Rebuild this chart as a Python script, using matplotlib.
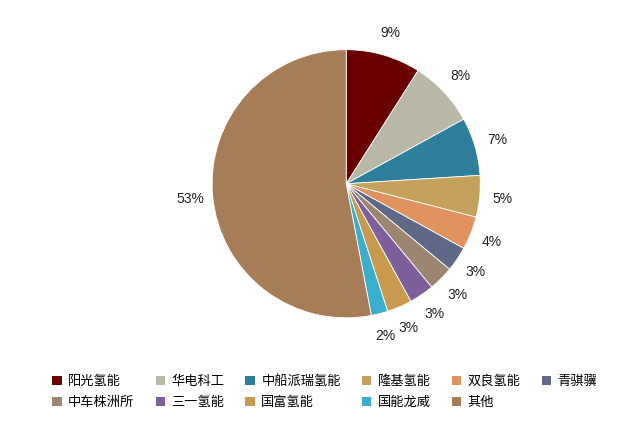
import matplotlib
matplotlib.use("Agg")
import matplotlib.pyplot as plt
from matplotlib.patches import Patch

plt.rcParams['font.family'] = ['Noto Sans CJK SC', 'DejaVu Sans']

NAMES = ["阳光氢能", "华电科工", "中船派瑞氢能", "隆基氢能", "双良氢能", "青骐骥",
         "中车株洲所", "三一氢能", "国富氢能", "国能龙威", "其他"]
SHARES = [9, 8, 7, 5, 4, 3, 3, 3, 3, 2, 53]
LABELS = ["9%", "8%", "7%", "5%", "4%", "3%", "3%", "3%", "3%", "2%", "53%"]
COLORS = ["#6b0000", "#b9b8a6", "#2e7f9b", "#c4a25c", "#e0925f", "#5f6886",
          "#9c8671", "#7d5f9c", "#c89a4f", "#3aaecb", "#a67d56"]

fig = plt.figure(figsize=(6.37, 4.21), dpi=100)
ax = fig.add_axes([0.333, 0.245, 0.421, 0.637])
wedges, texts = ax.pie(SHARES, colors=COLORS, startangle=90, counterclock=False,
                       labels=LABELS, labeldistance=1.17,
                       wedgeprops={"linewidth": 0.6, "edgecolor": "white"},
                       textprops={"fontsize": 10, "color": "#222222",
                                  "family": ["Liberation Sans", "DejaVu Sans"]})
for t in texts:
    t.set_ha("center"); t.set_va("center")
ax.set_xlim(-1, 1); ax.set_ylim(-1, 1)
ax.set_aspect("equal")

# reorder so the legend reads row by row
ncol = 6
order = [r * ncol + c for c in range(ncol) for r in range(2) if r * ncol + c < len(NAMES)]
handles = [Patch(facecolor=COLORS[i], label=NAMES[i]) for i in order]
fig.legend(handles=handles, loc="lower center", bbox_to_anchor=(0.51, 0.0), ncol=ncol,
           frameon=False, fontsize=9.5, handlelength=0.7, handleheight=0.7,
           columnspacing=1.6, handletextpad=0.5, labelspacing=0.6)

fig.savefig("out.png", dpi=100)
